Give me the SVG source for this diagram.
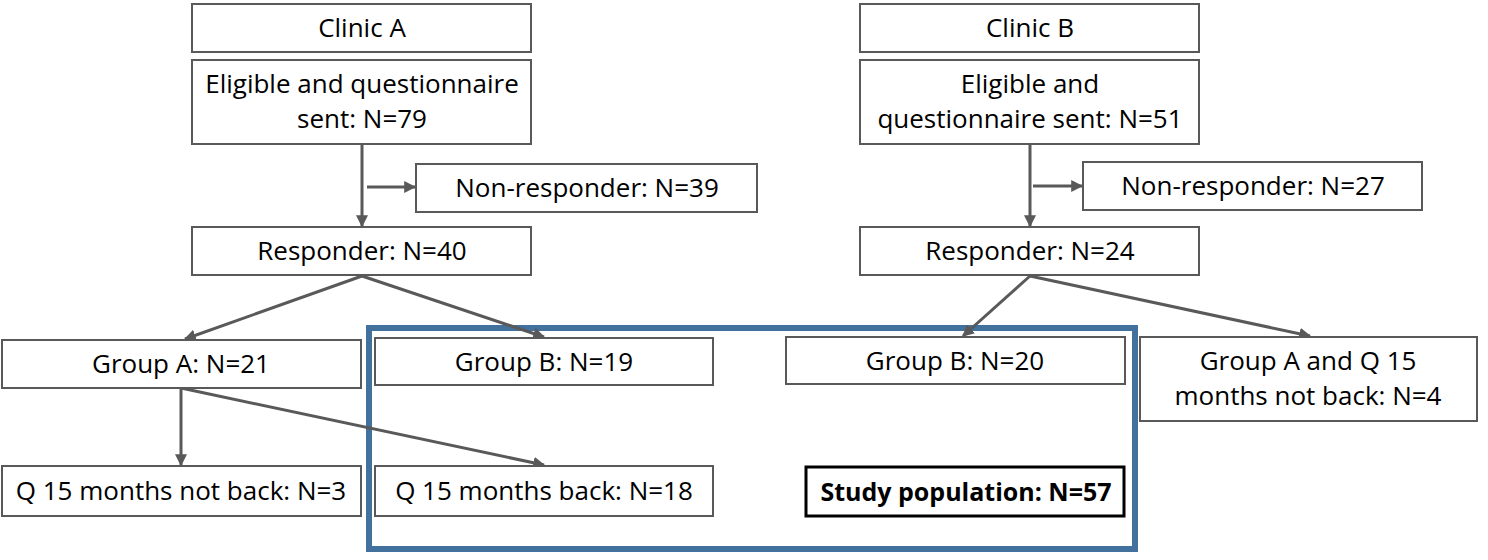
<svg xmlns="http://www.w3.org/2000/svg" width="1488" height="560" viewBox="0 0 1488 560">
<defs>
<marker id="ah" viewBox="0 0 10 10" refX="9" refY="5" markerWidth="4" markerHeight="4" orient="auto" markerUnits="strokeWidth">
<path d="M0,0 L10,5 L0,10 z" fill="#595959"/>
</marker>
<style>
.box{fill:#fff;stroke:#595959;stroke-width:2}
.t{font-family:"Open Sans","Noto Sans",sans-serif;font-size:26px;fill:#000;text-anchor:middle}
.b{font-weight:bold;font-size:25px}
.c{fill:none;stroke:#595959;stroke-width:3;marker-end:url(#ah)}
</style>
</defs>
<rect width="1488" height="560" fill="#fff"/>
<rect id="study-frame" x="369" y="328" width="766" height="221" fill="none" stroke="#41719C" stroke-width="6"/>
<g id="connectors">
<line class="c" x1="362" y1="145" x2="362" y2="226"/>
<line class="c" x1="367" y1="187" x2="415" y2="187"/>
<line class="c" x1="1030" y1="145" x2="1030" y2="226"/>
<line class="c" x1="1033" y1="186" x2="1082" y2="186"/>
<line class="c" x1="362" y1="276" x2="185" y2="339"/>
<line class="c" x1="362" y1="276" x2="544" y2="337"/>
<line class="c" x1="181" y1="388" x2="181" y2="465"/>
<line class="c" x1="181" y1="388" x2="544" y2="465"/>
<line class="c" x1="1030" y1="276" x2="963" y2="336"/>
<line class="c" x1="1030" y1="276" x2="1310" y2="336"/>
</g>
<g id="clinicA"><rect class="box" x="192" y="4" width="339" height="48"/><text class="t" x="362" y="37">Clinic A</text></g>
<g id="eligibleA"><rect class="box" x="192" y="60" width="339" height="84"/><text class="t" x="362" y="93">Eligible and questionnaire</text><text class="t" x="362" y="128">sent: N=79</text></g>
<g id="nonrespA"><rect class="box" x="416" y="164" width="341" height="48"/><text class="t" x="587" y="197">Non-responder: N=39</text></g>
<g id="respA"><rect class="box" x="192" y="227" width="339" height="48"/><text class="t" x="362" y="260">Responder: N=40</text></g>
<g id="clinicB"><rect class="box" x="860" y="4" width="339" height="48"/><text class="t" x="1030" y="37">Clinic B</text></g>
<g id="eligibleB"><rect class="box" x="860" y="60" width="339" height="84"/><text class="t" x="1030" y="93">Eligible and</text><text class="t" x="1030" y="128">questionnaire sent: N=51</text></g>
<g id="nonrespB"><rect class="box" x="1083" y="162" width="339" height="48"/><text class="t" x="1253" y="195">Non-responder: N=27</text></g>
<g id="respB"><rect class="box" x="860" y="227" width="339" height="48"/><text class="t" x="1030" y="260">Responder: N=24</text></g>
<g id="groupA"><rect class="box" x="2" y="340" width="359" height="48"/><text class="t" x="181" y="373">Group A: N=21</text></g>
<g id="groupB1"><rect class="box" x="375" y="338" width="338" height="47"/><text class="t" x="544" y="371">Group B: N=19</text></g>
<g id="groupB2"><rect class="box" x="786" y="337" width="339" height="47"/><text class="t" x="955" y="370">Group B: N=20</text></g>
<g id="groupAQ"><rect class="box" x="1140" y="337" width="337" height="84"/><text class="t" x="1308" y="370">Group A and Q 15</text><text class="t" x="1308" y="405">months not back: N=4</text></g>
<g id="qnotback"><rect class="box" x="2" y="466" width="359" height="50"/><text class="t" x="181" y="500">Q 15 months not back: N=3</text></g>
<g id="qback"><rect class="box" x="375" y="466" width="338" height="50"/><text class="t" x="544" y="500">Q 15 months back: N=18</text></g>
<g id="study"><rect x="806" y="467" width="318" height="49" fill="#fff" stroke="#000" stroke-width="3"/><text class="t b" x="966" y="501">Study population: N=57</text></g>
</svg>
